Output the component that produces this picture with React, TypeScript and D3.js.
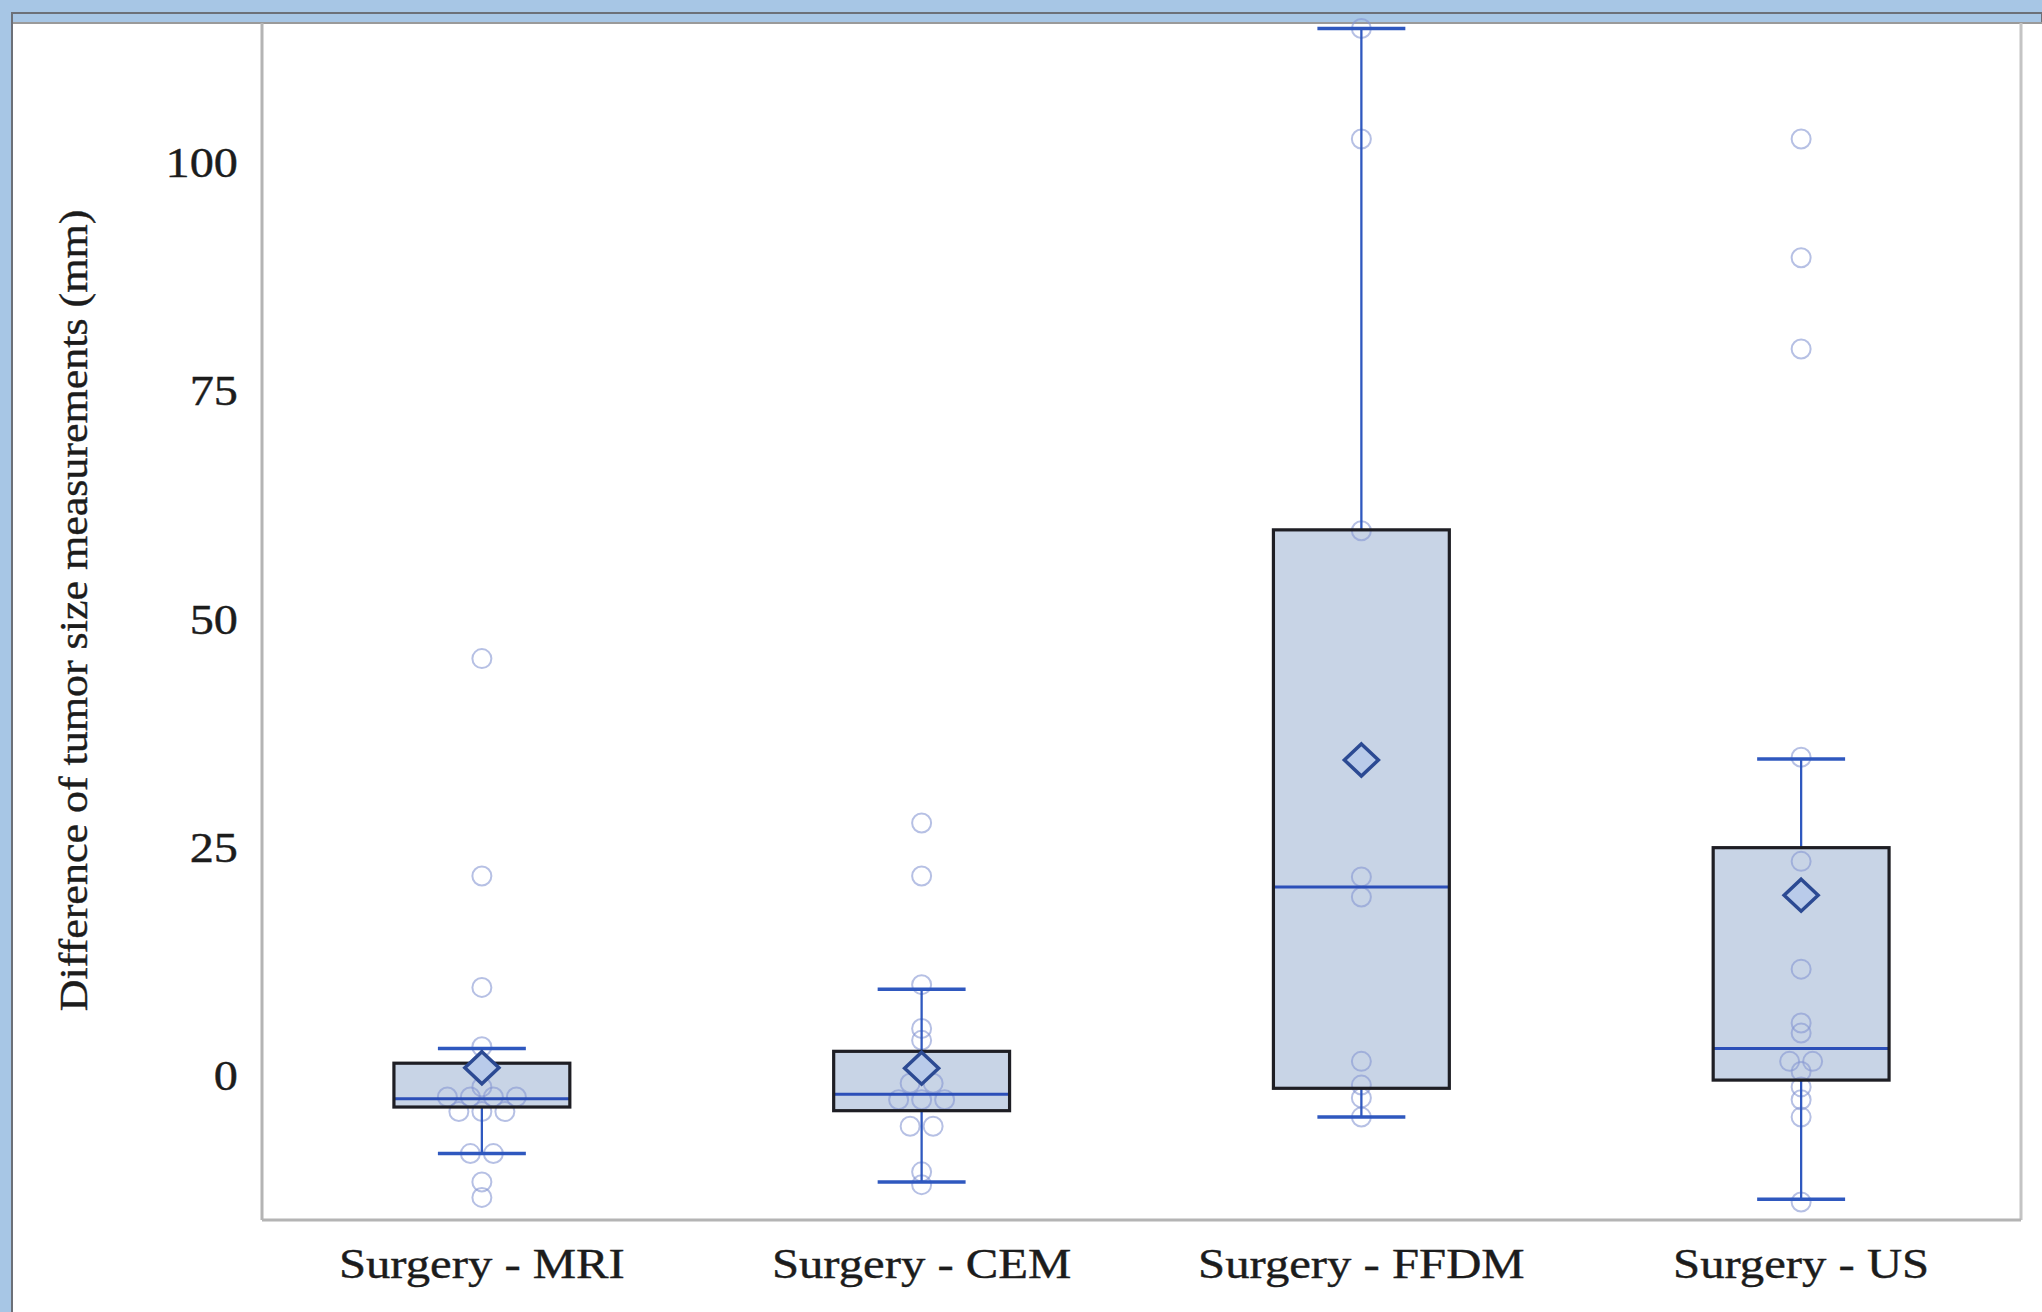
import React from "react";
import * as d3 from "d3";

const categories = ["Surgery - MRI", "Surgery - CEM", "Surgery - FFDM", "Surgery - US"];
const q1 = [-3.4, -3.8, -1.35, -0.45];
const medians = [-2.5, -2.0, 20.7, 3.0];
const q3 = [1.4, 2.7, 59.8, 25.0];
const whiskerLow = [-8.5, -11.6, -4.5, -13.5];
const whiskerHigh = [3.0, 9.5, 114.7, 34.7];
const means = [0.9, 0.85, 34.6, 19.8];

const pointsMRI = [45.7, 21.9, 9.7, 3.2, -1.2, -2.3, -2.3, -2.3, -2.3, -3.9, -3.9, -3.9, -8.5, -8.5, -11.6, -13.3];
const pointsCEM = [27.7, 21.9, 10.0, 5.2, 3.9, -0.8, -0.8, -2.6, -2.6, -2.6, -5.5, -5.5, -10.5, -11.9];
const pointsFFDM = [114.7, 102.6, 59.7, 21.8, 19.6, 1.6, -1.0, -2.4, -4.5];
const pointsUS = [102.6, 89.6, 79.6, 34.9, 23.5, 11.7, 5.8, 4.7, 1.6, 1.6, 0.5, -1.2, -2.6, -4.5, -13.8];
const allPoints = [pointsMRI, pointsCEM, pointsFFDM, pointsUS];

const yTicks = [0, 25, 50, 75, 100];
const yDomain = [-15.77, 115.3];
const yTitle = "Difference of tumor size measurements (mm)";

const W = 2042;
const H = 1312;
const plot = { left: 262, right: 2021, top: 23, bottom: 1220 };
const FONT = "'Liberation Serif', 'Times New Roman', serif";

export default function App() {
  const x = d3.scaleBand<string>().domain(categories).range([plot.left, plot.right]);
  const y = d3.scaleLinear().domain(yDomain).range([plot.bottom, plot.top]);
  const bw = x.bandwidth();
  const boxW = bw * 0.4;
  const capW = bw * 0.2;
  const jitterStep = 23;
  const r = 9.5;

  const jittered = (vals: number[]) => {
    const out: { v: number; off: number }[] = [];
    let i = 0;
    while (i < vals.length) {
      let j = i;
      while (j < vals.length && vals[j] === vals[i]) j++;
      const k = j - i;
      for (let m = 0; m < k; m++) out.push({ v: vals[i], off: (m - (k - 1) / 2) * jitterStep });
      i = j;
    }
    return out;
  };

  const textStyle = { fontFamily: FONT, fill: "#1c1c1c", stroke: "#1c1c1c", strokeWidth: 0.4 };

  return (
    <svg width={W} height={H} style={{ position: "absolute", left: 0, top: 0 }}>
      <rect x={0} y={0} width={W} height={H} fill="#a7c6e5" />
      <rect x={12} y={13} width={W - 12} height={H - 13} fill="#a7c6e5" stroke="#6c7078" strokeWidth={2} />
      <rect x={13} y={23} width={W - 13} height={H - 23} fill="#ffffff" />
      <line x1={13} x2={W} y1={23} y2={23} stroke="#9a9a9a" strokeWidth={2} />

      {/* plot wall */}
      <line x1={plot.left} x2={plot.left} y1={plot.top} y2={plot.bottom} stroke="#b4b4b4" strokeWidth={3} />
      <line x1={plot.right} x2={plot.right} y1={plot.top} y2={plot.bottom} stroke="#c4c4c4" strokeWidth={3} />
      <line x1={plot.left} x2={plot.right} y1={plot.bottom} y2={plot.bottom} stroke="#b4b4b4" strokeWidth={3} />

      {categories.map((c, i) => {
        const cx = (x(c) as number) + bw / 2;
        return (
          <g key={c}>
            <rect x={cx - boxW / 2} y={y(q3[i])} width={boxW} height={y(q1[i]) - y(q3[i])} fill="#c8d4e6" />
            {jittered(allPoints[i]).map((p, k) => (
              <circle key={k} cx={cx + p.off} cy={y(p.v)} r={r} fill="none" stroke="#8596d2" strokeOpacity={0.6} strokeWidth={2} />
            ))}
            <line x1={cx} x2={cx} y1={y(q3[i])} y2={y(whiskerHigh[i])} stroke="#2f58bf" strokeWidth={2.3} />
            <line x1={cx} x2={cx} y1={y(q1[i])} y2={y(whiskerLow[i])} stroke="#2f58bf" strokeWidth={2.3} />
            <line x1={cx - capW / 2} x2={cx + capW / 2} y1={y(whiskerHigh[i])} y2={y(whiskerHigh[i])} stroke="#2f58bf" strokeWidth={3.5} />
            <line x1={cx - capW / 2} x2={cx + capW / 2} y1={y(whiskerLow[i])} y2={y(whiskerLow[i])} stroke="#2f58bf" strokeWidth={3.5} />
            <line x1={cx - boxW / 2} x2={cx + boxW / 2} y1={y(medians[i])} y2={y(medians[i])} stroke="#2c4fb8" strokeWidth={3} />
            <rect x={cx - boxW / 2} y={y(q3[i])} width={boxW} height={y(q1[i]) - y(q3[i])} fill="none" stroke="#1e1e24" strokeWidth={3.2} />
            <path
              d={`M${cx},${y(means[i]) - 16} L${cx + 17},${y(means[i])} L${cx},${y(means[i]) + 16} L${cx - 17},${y(means[i])} Z`}
              fill="#b9cbea"
              stroke="#2c4a93"
              strokeWidth={3.5}
            />
            <text transform={`translate(${cx},1278) scale(1.16,1)`} textAnchor="middle" fontSize={42} {...textStyle}>
              {c}
            </text>
          </g>
        );
      })}

      {yTicks.map((t) => (
        <text key={t} transform={`translate(238,${y(t)}) scale(1.15,1)`} textAnchor="end" dy="0.34em" fontSize={42} {...textStyle}>
          {t}
        </text>
      ))}

      <text
        transform={`translate(87,${(plot.top + plot.bottom) / 2 - 11}) rotate(-90) scale(1.1,1)`}
        textAnchor="middle"
        fontSize={40}
        {...textStyle}
      >
        {yTitle}
      </text>
    </svg>
  );
}
